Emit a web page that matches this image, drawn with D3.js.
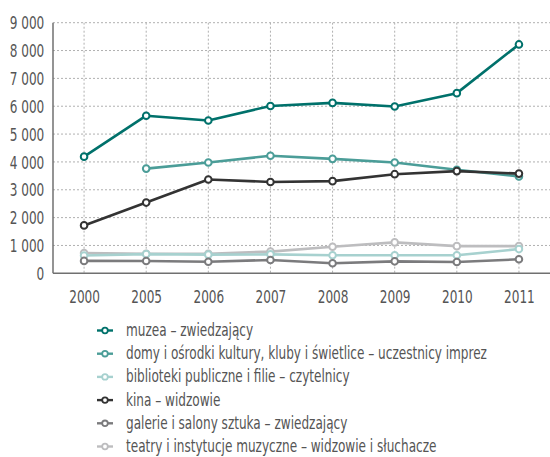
<!DOCTYPE html>
<html><head><meta charset="utf-8">
<script src="https://cdn.jsdelivr.net/npm/d3@7"></script>
<style>
body{margin:0;background:#fff;}
svg text{font-family:"DejaVu Sans Condensed","DejaVu Sans",sans-serif;font-stretch:condensed;fill:#555;}
</style></head>
<body><svg id="c" width="550" height="457"></svg>
<script>
const years = ["2000","2005","2006","2007","2008","2009","2010","2011"];
const yTicks = [0,1000,2000,3000,4000,5000,6000,7000,8000,9000];
const seriesNames = [
  "muzea – zwiedzający",
  "domy i ośrodki kultury, kluby i świetlice – uczestnicy imprez",
  "biblioteki publiczne i filie – czytelnicy",
  "kina – widzowie",
  "galerie i salony sztuka – zwiedzający",
  "teatry i instytucje muzyczne – widzowie i słuchacze"
];
const muzea      = [4190, 5660, 5490, 6010, 6120, 5990, 6470, 8220];
const domy       = [null, 3760, 3980, 4220, 4110, 3980, 3720, 3480];
const biblioteki = [640, 690, 670, 680, 646, 646, 646, 870];
const kina       = [1720, 2540, 3370, 3280, 3310, 3560, 3670, 3580];
const galerie    = [445, 440, 415, 477, 360, 430, 406, 503];
const teatry     = [730, 700, 700, 780, 955, 1110, 975, 975];
const colors = ["#00716b","#4b9d98","#a7d1cf","#333333","#7b7b7d","#bdbdbf"];

const seriesData = [muzea, domy, biblioteki, kina, galerie, teatry];
const drawOrder = [5, 2, 4, 1, 3, 0];

const FS = 17, SX = 0.79;
const svg = d3.select("#c");
const L = 53, R = 550, T = 22.7, B = 273.3;
const x = d3.scalePoint().domain(years).range([L, R]).padding(0.5);
const y = d3.scaleLinear().domain([0, 9000]).range([B, T]);

// grid
const g = svg.append("g");
g.selectAll("line.h").data(yTicks.filter(d => d > 0)).join("line")
  .attr("x1", L).attr("x2", R).attr("y1", d => y(d)).attr("y2", d => y(d))
  .attr("stroke", "#b0b0b0").attr("stroke-width", 1).attr("stroke-dasharray", "2,2");
g.selectAll("line.v").data(years).join("line")
  .attr("x1", d => x(d)).attr("x2", d => x(d)).attr("y1", T).attr("y2", B)
  .attr("stroke", "#b0b0b0").attr("stroke-width", 1).attr("stroke-dasharray", "2,2");

// axes
const fmt = d => d === 0 ? "0" : d3.format(",")(d).replace(",", " ");
const yAxis = svg.append("g").attr("transform", `translate(${L},0)`)
  .call(d3.axisLeft(y).tickValues(yTicks).tickSize(0).tickFormat(fmt));
yAxis.select(".domain").attr("stroke", "#707070").attr("stroke-width", 1.5).attr("d", `M0,${T}V${B}`);
yAxis.selectAll("text").attr("x", 0).attr("dy", "0.36em")
  .attr("transform", `translate(-8.7,0) scale(${SX},1)`)
  .style("font-size", FS + "px").attr("fill", "#555");

const xAxis = svg.append("g").attr("transform", `translate(0,${B})`)
  .call(d3.axisBottom(x).tickSize(0));
xAxis.select(".domain").attr("stroke", "#707070").attr("stroke-width", 1.5).attr("d", `M${L},0H${R}`);
xAxis.selectAll("text").attr("y", 0).attr("dy", 0)
  .attr("transform", `translate(0,30) scale(${SX},1)`)
  .style("font-size", FS + "px").attr("fill", "#555");

// lines
const line = d3.line().defined(d => d.v != null).x(d => x(d.year)).y(d => y(d.v));
drawOrder.forEach(i => {
  const pts = years.map((yr, j) => ({year: yr, v: seriesData[i][j]}));
  const sg = svg.append("g");
  sg.append("path").datum(pts).attr("d", line).attr("fill", "none")
    .attr("stroke", colors[i]).attr("stroke-width", 2.6).attr("stroke-linejoin", "round");
  sg.selectAll("circle").data(pts.filter(d => d.v != null)).join("circle")
    .attr("cx", d => x(d.year)).attr("cy", d => y(d.v)).attr("r", 3.3)
    .attr("fill", "#fff").attr("stroke", colors[i]).attr("stroke-width", 2);
});

// legend
const leg = svg.append("g");
const ly0 = 330.5, ldy = 23.2;
seriesNames.forEach((name, i) => {
  const yy = ly0 + i * ldy;
  leg.append("line").attr("x1", 97).attr("x2", 113).attr("y1", yy).attr("y2", yy)
    .attr("stroke", colors[i]).attr("stroke-width", 2.4);
  leg.append("circle").attr("cx", 105).attr("cy", yy).attr("r", 2.8)
    .attr("fill", "#fff").attr("stroke", colors[i]).attr("stroke-width", 1.8);
  leg.append("text").attr("x", 0).attr("y", 0).attr("dy", "0.32em")
    .attr("transform", `translate(126,${yy}) scale(${SX},1)`)
    .style("font-size", FS + "px").attr("fill", "#555").text(name);
});
</script></body></html>
